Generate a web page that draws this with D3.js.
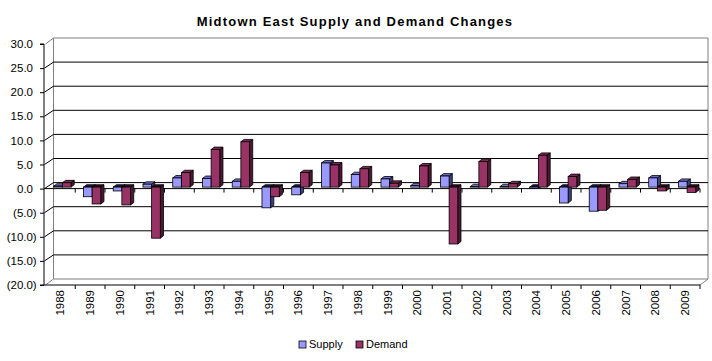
<!DOCTYPE html>
<html>
<head>
<meta charset="utf-8">
<script src="https://cdn.jsdelivr.net/npm/d3@7"></script>
<style>
  body { margin: 0; background: #fff; }
  svg { display: block; font-family: "Liberation Sans", Arial, sans-serif; }
</style>
</head>
<body>
<div class="chart"></div>
<script>
const years = ['1988','1989','1990','1991','1992','1993','1994','1995','1996','1997','1998',
  '1999','2000','2001','2002','2003','2004','2005','2006','2007','2008','2009']
const supply = [0.2, -2.0, -0.8, 0.6, 1.9, 1.8, 1.2, -4.3, -1.6, 5.0, 2.6,
  1.7, 0.3, 2.3, 0.1, 0.1, -0.3, -3.3, -5.0, 0.7, 1.9, 1.2]
const demand = [0.9, -3.5, -3.7, -10.6, 3.0, 7.8, 9.4, -2.0, 3.0, 4.6, 3.8,
  0.8, 4.4, -11.8, 5.3, 0.7, 6.6, 2.2, -4.8, 1.6, -0.8, -1.1]
const yTicks = [-20, -15, -10, -5, 0, 5, 10, 15, 20, 25, 30]
const seriesNames = ['Supply', 'Demand']

const width = 712, height = 361
// depth offset of the back wall relative to the front plane
const depth = {dx: 8, dy: -6}
const colors = {
  Supply: {front: '#9999FF', top: '#7070D0', side: '#40407F', neg: '#1a1a40'},
  Demand: {front: '#993366', top: '#7a2952', side: '#4c1933', neg: '#2a0e1c'}
}

const svg = d3.select('.chart').append('svg').attr('width', width).attr('height', height)

svg.append('text')
  .attr('x', 355).attr('y', 26)
  .attr('text-anchor', 'middle')
  .attr('font-size', '13px').attr('font-weight', 'bold')
  .attr('letter-spacing', '1.2px')
  .text('Midtown East Supply and Demand Changes')

const x = d3.scaleBand().domain(years).range([45.5, 45.5 + 22 * 29.75])
const xs = d3.scaleBand().domain(seriesNames).range([0, x.bandwidth()]).paddingOuter(0.72)
const y = d3.scaleLinear().domain([-20, 30]).range([285, 44])

const x0 = x.range()[0], x1 = x.range()[1]
const yTop = y(30), yBot = y(-20)

const walls = svg.append('g')
// back wall outline (grey)
walls.append('path')
  .attr('d', `M${x0},${yTop} L${x0 + depth.dx},${yTop + depth.dy} L${x1 + depth.dx},${yTop + depth.dy} L${x1 + depth.dx},${yBot + depth.dy} L${x1},${yBot}
    M${x0 + depth.dx},${yTop + depth.dy} L${x0 + depth.dx},${yBot + depth.dy} L${x1 + depth.dx},${yBot + depth.dy}
    M${x0},${yBot} L${x0 + depth.dx},${yBot + depth.dy}`)
  .attr('fill', 'none').attr('stroke', '#808080').attr('stroke-width', 1)

// gridlines on side wall + back wall
const grid = yTicks.filter(d => d !== -20 && d !== 30)
walls.selectAll('.grid')
  .data(grid)
  .join('path')
  .attr('class', 'grid')
  .attr('d', d => `M${x0 - 1},${y(d)} L${x0 + depth.dx},${y(d) + depth.dy} L${x1 + depth.dx},${y(d) + depth.dy}`)
  .attr('fill', 'none').attr('stroke', '#000').attr('stroke-width', 1)

// value axis
const yAxis = svg.append('g')
  .attr('transform', `translate(${x0 - 1.5},0)`)
  .call(d3.axisLeft(y).tickValues(yTicks).tickSize(4).tickPadding(7)
    .tickFormat(d => d < 0 ? `(${Math.abs(d).toFixed(1)})` : d.toFixed(1)))
yAxis.select('.domain').attr('d', `M-4,${yTop}H0V${yBot}H-4`).attr('stroke', '#000')
yAxis.selectAll('.tick line').attr('stroke', '#000')
yAxis.selectAll('.tick text')
  .attr('font-size', '11.5px').attr('font-family', '"Liberation Sans", Arial, sans-serif')
  .attr('fill', '#000')
  .attr('dx', d => d < 0 ? '3.7' : '0')

// category axis along the front floor
const xAxis = svg.append('g')
  .attr('transform', `translate(0,${yBot})`)
  .call(d3.axisBottom(x).tickSize(0).tickPadding(0))
xAxis.select('.domain').attr('d', `M${x0 - 1.5},0H${x1}`).attr('stroke', '#000')
xAxis.selectAll('.tick text')
  .attr('font-size', '11.5px').attr('font-family', '"Liberation Sans", Arial, sans-serif')
  .attr('fill', '#000')
  .attr('transform', 'rotate(-90)')
  .attr('text-anchor', 'end')
  .attr('x', -5).attr('y', 0).attr('dy', '0.35em')

const boundaries = years.map(d => x(d)).concat([x1])
svg.selectAll('.xtick')
  .data(boundaries.slice(1))
  .join('line')
  .attr('class', 'xtick')
  .attr('x1', d => d).attr('x2', d => d)
  .attr('y1', yBot).attr('y2', yBot + 4)
  .attr('stroke', '#000')

// front zero line with its ticks
svg.append('line')
  .attr('x1', x0 - 1.5).attr('x2', x1)
  .attr('y1', y(0)).attr('y2', y(0))
  .attr('stroke', '#000')
svg.selectAll('.ztick')
  .data(boundaries.slice(1))
  .join('line')
  .attr('class', 'ztick')
  .attr('x1', d => d).attr('x2', d => d)
  .attr('y1', y(0)).attr('y2', y(0) + 4)
  .attr('stroke', '#000')

// 3D columns: front face sits a little behind the front plane
const f = {dx: 2, dy: -1.5}
const b = {dx: 5.2, dy: -3.9}
const rows = []
years.forEach((yr, i) => {
  rows.push({year: yr, name: 'Supply', value: supply[i]})
  rows.push({year: yr, name: 'Demand', value: demand[i]})
})

const bars = svg.append('g').selectAll('g')
  .data(rows)
  .join('g')

bars.each(function(d) {
  const g = d3.select(this)
  const c = colors[d.name]
  const left = x(d.year) + xs(d.name) + f.dx
  const right = left + xs.bandwidth()
  const top = Math.min(y(d.value), y(0)) + f.dy
  const bot = Math.max(y(d.value), y(0)) + f.dy
  const ddx = b.dx - f.dx, ddy = b.dy - f.dy
  g.append('path')
    .attr('d', `M${right},${top} L${right + ddx},${top + ddy} L${right + ddx},${bot + ddy} L${right},${bot} Z`)
    .attr('fill', c.side).attr('stroke', '#000').attr('stroke-width', 0.8)
  g.append('path')
    .attr('d', `M${left},${top} L${left + ddx},${top + ddy} L${right + ddx},${top + ddy} L${right},${top} Z`)
    .attr('fill', d.value < 0 ? c.neg : c.top).attr('stroke', '#000').attr('stroke-width', 0.8)
  g.append('rect')
    .attr('x', left).attr('y', top)
    .attr('width', xs.bandwidth()).attr('height', Math.max(bot - top, 0.5))
    .attr('fill', c.front).attr('stroke', '#000').attr('stroke-width', 0.8)
})

// legend
const legend = svg.append('g').selectAll('g')
  .data(seriesNames)
  .join('g')
  .attr('transform', (d, i) => `translate(${i === 0 ? 299 : 356},341)`)
legend.append('rect')
  .attr('width', 7).attr('height', 7)
  .attr('fill', d => colors[d].front).attr('stroke', '#000').attr('stroke-width', 0.8)
legend.append('text')
  .attr('x', 10).attr('y', 7)
  .attr('font-size', '11px')
  .text(d => d)
</script>
</body>
</html>
